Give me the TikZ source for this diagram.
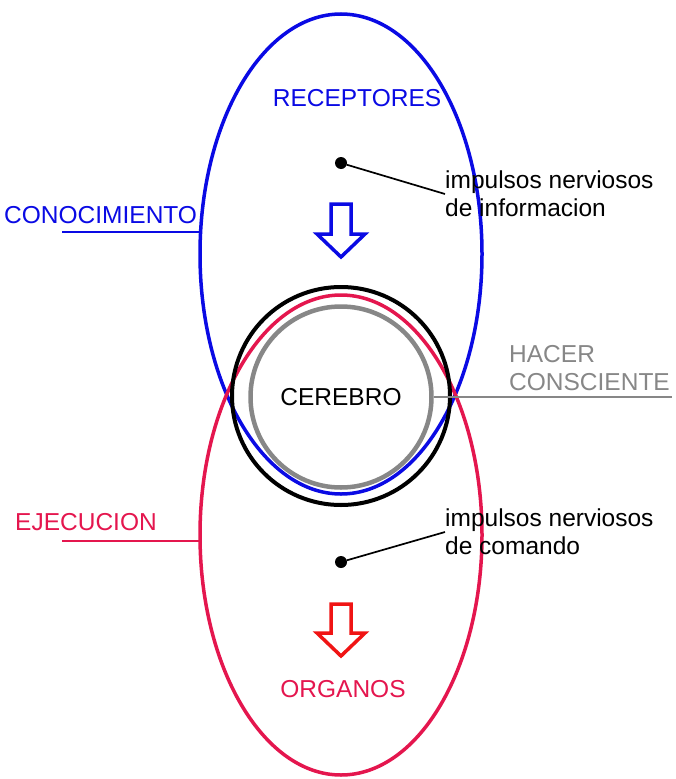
\documentclass[tikz,border=0pt]{standalone}
\usepackage{fontspec}
\setmainfont{Liberation Sans}
\usepackage{tikz}

\definecolor{recblue}{RGB}{10,10,228}
\definecolor{ejered}{RGB}{228,22,78}
\definecolor{arrred}{RGB}{240,20,20}
\definecolor{hacgray}{RGB}{135,135,135}

\begin{document}
\begin{tikzpicture}[x=1pt,y=-1pt,
  lbl/.style={font=\fontsize{24.5}{28}\selectfont,inner sep=0pt},
  dotmark/.style={circle,fill=black,inner sep=0pt,minimum size=12pt},
  hollow/.style={line width=3.5pt,line join=miter}]
\useasboundingbox (0,0) rectangle (675,779);

% the two ellipses
\draw [line width=3.5,color=recblue] (341,254) ellipse [x radius=141pt, y radius=240pt];
\draw [line width=3.5,color=ejered] (341,535) ellipse [x radius=141pt, y radius=240pt];

% brain
\node [circle,draw=black,line width=4,minimum size=218pt] (brain) at (341,396) {};
\node [circle,draw=hacgray,line width=4.5,minimum size=181pt,lbl] (cerebro) at (341,397) {CEREBRO};

% labels
\node [lbl,text=recblue] (receptores) at (357,98) {RECEPTORES};
\node [lbl,text=ejered] (organos) at (343,689) {ORGANOS};
\node [lbl,text=recblue,anchor=west] (conoc) at (4,215) {CONOCIMIENTO};
\node [lbl,text=ejered,anchor=west] (ejec) at (15,522) {EJECUCION};
\node [lbl,text=hacgray,anchor=west,align=left] (hacer) at (509,368) {HACER\\CONSCIENTE};
\node [lbl,anchor=west,align=left] (info) at (445,194) {impulsos nerviosos\\de informacion};
\node [lbl,anchor=west,align=left] (comando) at (445,532) {impulsos nerviosos\\de comando};

% dots and leaders
\node [dotmark] (dotup) at (341,163) {};
\node [dotmark] (dotdown) at (341,562) {};
\draw [line width=1.7] (dotup) -- (info.west);
\draw [line width=1.7] (dotdown) -- (comando.west);

\coordinate (conocend) at (202,232);
\coordinate (conocstart) at (62,232);
\draw [line width=1.7,color=recblue] (conocstart) -- (conocend);
\coordinate (ejecend) at (202,541);
\coordinate (ejecstart) at (62,541);
\draw [line width=1.7,color=ejered] (ejecstart) -- (ejecend);
\coordinate (hacerend) at (672,397);
\draw [line width=2,color=hacgray] (cerebro.east) -- (hacerend);

% hollow arrows
\draw [hollow,color=recblue] (331,204) -- (351,204) -- (351,234) -- (365,234)
  -- (341,257) -- (317,234) -- (331,234) -- cycle;
\draw [hollow,color=arrred] (331,604) -- (351,604) -- (351,633) -- (365,633)
  -- (341,656) -- (317,633) -- (331,633) -- cycle;
\end{tikzpicture}
\end{document}
